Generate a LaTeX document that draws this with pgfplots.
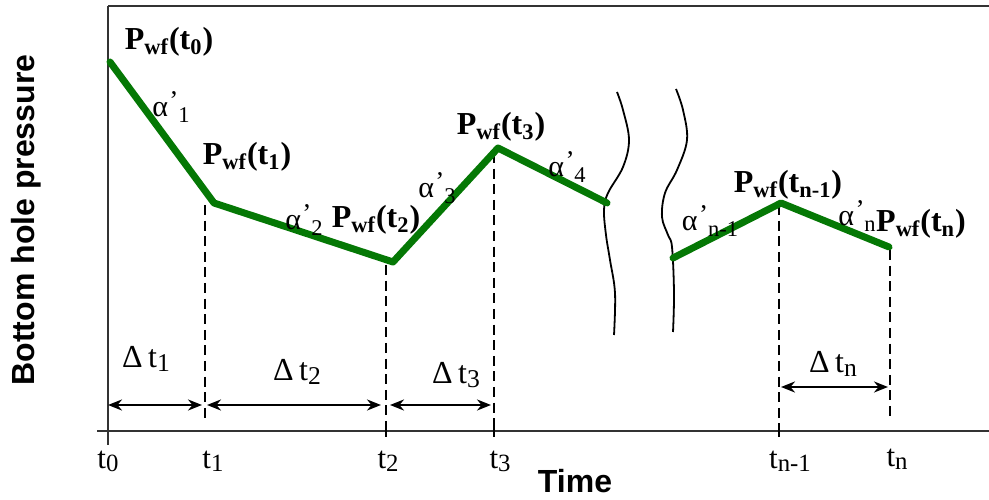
\documentclass[border=0pt]{standalone}
\usepackage{fontspec}
\setmainfont{Liberation Serif}
\newfontfamily\sansfont{Liberation Sans}
\usepackage{pgfplots}
\pgfplotsset{compat=1.18}
\usetikzlibrary{arrows.meta}

\definecolor{pgreen}{RGB}{5,120,5}

% pressure label P_wf(t_i)
\newcommand{\Pwf}[1]{P\textsubscript{wf}(t\textsubscript{#1})}
% slope label alpha'_i
\newcommand{\al}[1]{α\kern0.05em\raisebox{0.5ex}{\scalebox{0.9}{'}}\raisebox{-0.45ex}{\scalebox{0.75}{#1}}}
% time label t_i
\newcommand{\tl}[1]{t\raisebox{-0.25ex}{\scalebox{0.8}{#1}}}

\tikzset{
  plabel/.style={font=\bfseries\fontsize{16}{18}\selectfont, inner sep=0pt},
  alabel/.style={font=\fontsize{15}{17}\selectfont, inner sep=0pt},
  tlabel/.style={font=\fontsize{15.5}{18}\selectfont, inner sep=0pt, anchor=base},
  dlabel/.style={font=\fontsize{16}{18}\selectfont, inner sep=0pt},
  vdash/.style={black, line width=1.2pt, dash pattern=on 5pt off 2.8pt},
  dim/.style={black, line width=1.1pt, {Stealth[length=7pt,width=5.5pt]}-{Stealth[length=7pt,width=5.5pt]}},
  wave/.style={black, line width=0.9pt, smooth, tension=0.6},
}

\begin{document}
\begin{tikzpicture}
\begin{axis}[
  scale only axis,
  width=494.5pt, height=249.5pt,
  xmin=0, xmax=989, ymin=0, ymax=499,
  hide axis, clip=false,
]
% frame: top, left and time axis
\addplot[black!80, line width=1.3pt] coordinates {(108,493) (989,493)};
\addplot[black!80, line width=1.3pt] coordinates {(108,493) (108,54)};
\addplot[black!80, line width=1.3pt] coordinates {(97,68) (989,68)};

% tick marks on the time axis
\addplot[black, line width=1pt] coordinates {(386,74) (386,62)};
\addplot[black, line width=1pt] coordinates {(494,74) (494,62)};
\addplot[black, line width=1pt] coordinates {(779,74) (779,62)};

% dashed guides from each time step down to the axis
\addplot[vdash] coordinates {(205,294) (205,79)};
\addplot[vdash] coordinates {(386,234) (386,68)};
\addplot[vdash] coordinates {(494,346) (494,68)};
\addplot[vdash] coordinates {(779,294) (779,68)};
\addplot[vdash] coordinates {(890,249) (890,79)};

% time-step intervals
\addplot[dim] coordinates {(108,94) (202,94)};
\addplot[dim] coordinates {(207,94) (381,94)};
\addplot[dim] coordinates {(390,94) (491,94)};
\addplot[dim] coordinates {(781,112) (888,112)};

% break marks
\addplot[wave] coordinates {(617,407) (623,389) (629,359) (623,332) (608,306) (604,289) (606,264) (610,239) (615,206) (614,164)};
\addplot[wave] coordinates {(676,410) (683,389) (687,359) (677,329) (665,306) (662,282) (668,264) (672,252) (674,206) (673,167)};

% bottom hole pressure, piecewise linear
\addplot[pgreen, line width=3.5pt, line join=round, line cap=round]
  coordinates {(110,437) (214,296) (393,237) (498,351) (607,296)};
\addplot[pgreen, line width=3.5pt, line join=round, line cap=round]
  coordinates {(673,241) (781,296) (889,252)};

% pressure labels
\node[plabel] at (169,457) {\Pwf{0}};
\node[plabel] at (247,342) {\Pwf{1}};
\node[plabel] at (376,279) {\Pwf{2}};
\node[plabel] at (501,372) {\Pwf{3}};
\node[plabel] at (788,314) {\Pwf{n-1}};
\node[plabel] at (921,275) {\Pwf{n}};

% slope labels
\node[alabel] at (171,392) {\al{1}};
\node[alabel] at (304,279) {\al{2}};
\node[alabel] at (437,311) {\al{3}};
\node[alabel] at (567,332) {\al{4}};
\node[alabel] at (710,278) {\al{n-1}};
\node[alabel] at (857,283) {\al{n}};

% interval labels
\node[dlabel] at (146,140) {Δ\,\tl{1}};
\node[dlabel] at (297,127) {Δ\,\tl{2}};
\node[dlabel] at (456,124) {Δ\,\tl{3}};
\node[dlabel] at (833,135) {Δ\,\tl{n}};

% time labels
\node[tlabel] at (108,31) {\tl{0}};
\node[tlabel] at (213,31) {\tl{1}};
\node[tlabel] at (388,31) {\tl{2}};
\node[tlabel] at (500,31) {\tl{3}};
\node[tlabel] at (790,31) {\tl{n-1}};
\node[tlabel] at (897,33) {\tl{n}};

% axis titles
\node[font=\sansfont\bfseries\fontsize{16}{19}\selectfont] at (575,18) {Time};
\node[font=\sansfont\bfseries\fontsize{16}{19}\selectfont, rotate=90] at (26,279) {Bottom hole pressure};
\end{axis}
\pgfresetboundingbox
\path (0,0) rectangle (494.5pt,249.5pt);
\end{tikzpicture}
\end{document}
